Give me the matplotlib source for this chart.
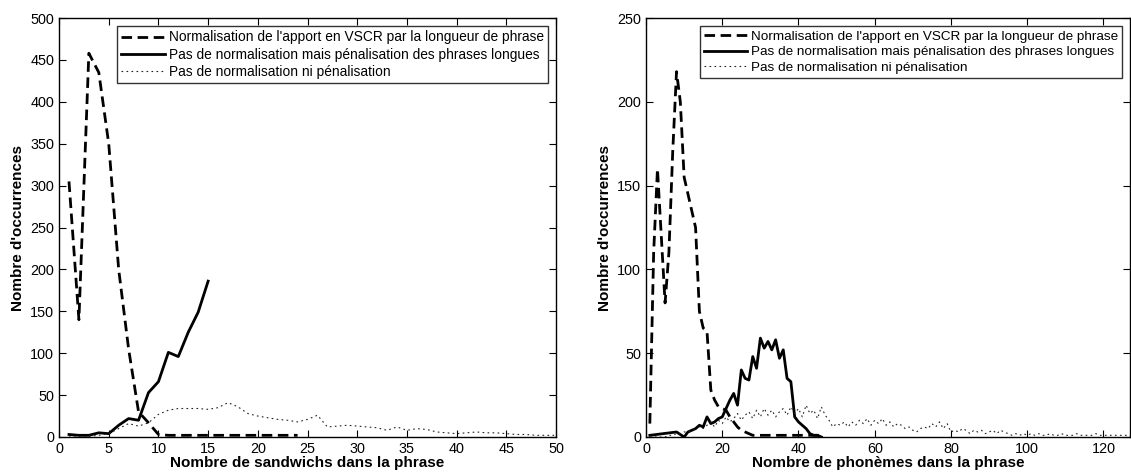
import numpy as np
import matplotlib
matplotlib.use("Agg")
import matplotlib.pyplot as plt

plt.rcParams['font.family'] = ['Liberation Sans', 'DejaVu Sans']

# Données : sandwichs
sw_x_norm = list(range(1, 25))
sw_norm = [305, 140, 458, 435, 350, 200, 105, 30, 17, 3,
           2, 2, 2, 2, 2, 2, 2, 2, 2, 2, 2, 2, 2, 2]
sw_x_pen = list(range(1, 16))
sw_pen = [3, 2, 2, 5, 4, 14, 22, 20, 53, 66, 101, 96, 125, 149, 186]
sw_x_brut = list(range(1, 51))
sw_brut = [0, 0, 1, 2, 4, 10, 16, 13, 17, 27,
           32, 34, 34, 34, 33, 35, 41, 36, 28, 25,
           23, 21, 20, 18, 21, 26, 12, 13, 14, 13,
           12, 11, 8, 12, 8, 10, 9, 6, 5, 4,
           5, 6, 5, 5, 4, 3, 3, 2, 2, 2]

# Données : phonèmes
ph_x_norm = list(range(1, 47))
ph_norm = [8, 110, 160, 120, 80, 110, 170, 218, 200, 155,
           145, 135, 125, 75, 65, 63, 28, 22, 18, 17,
           16, 12, 9, 6, 4, 3, 2, 1, 1, 1,
           1, 1, 1, 1, 1, 1, 1, 1, 1, 1,
           1, 1, 1, 1, 1, 1]
ph_x_pen = [1, 8, 10, 11, 12, 13, 14, 15, 16, 17, 18, 19, 20, 21, 22, 23, 24,
            25, 26, 27, 28, 29, 30, 31, 32, 33, 34, 35, 36, 37, 38, 39, 40,
            41, 42, 43, 44, 45, 46]
ph_pen = [1, 3, 0, 3, 4, 5, 7, 6, 12, 8, 9, 11, 12, 17, 22, 26, 19,
          40, 35, 34, 48, 41, 59, 53, 57, 52, 58, 47, 52, 35, 33, 12, 9,
          7, 5, 2, 1, 1, 0]
ph_x_brut = list(range(1, 128))
ph_brut = [0, 0, 0, 0, 0, 1, 1, 2, 2, 3,
           3, 4, 5, 6, 5, 7, 9, 6, 10, 8,
           12, 9, 11, 14, 10, 13, 15, 11, 16, 12,
           17, 13, 16, 12, 15, 17, 13, 18, 14, 17,
           12, 19, 14, 16, 11, 18, 13, 10, 6, 8,
           7, 9, 6, 9, 7, 10, 8, 11, 7, 10,
           8, 11, 7, 9, 6, 8, 7, 5, 6, 4,
           3, 5, 6, 5, 8, 6, 9, 5, 8, 3,
           4, 3, 5, 4, 2, 4, 3, 4, 2, 3,
           4, 2, 4, 3, 2, 1, 2, 1, 2, 1,
           2, 1, 2, 1, 1, 2, 1, 1, 2, 1,
           1, 1, 2, 1, 1, 1, 1, 2, 1, 1,
           1, 1, 1, 1, 1, 1, 1]

labels = ["Normalisation de l'apport en VSCR par la longueur de phrase",
          "Pas de normalisation mais pénalisation des phrases longues",
          "Pas de normalisation ni pénalisation"]

fig = plt.figure(figsize=(11.31, 4.75), dpi=100)
ax1 = fig.add_axes([0.0522, 0.08, 0.4394, 0.882])
ax2 = fig.add_axes([0.5712, 0.08, 0.428, 0.882])


def trace(ax, xn, yn, xp, yp, xb, yb, fs):
    ax.plot(xn, yn, color='black', lw=2.0, linestyle=(0, (3.8, 2.0)), label=labels[0])
    ax.plot(xp, yp, color='black', lw=2.0, linestyle='-', label=labels[1])
    ax.plot(xb, yb, color='#222222', lw=0.8, linestyle=(0, (1.5, 3)), label=labels[2])
    ax.tick_params(direction='in', top=True, right=True, length=5, labelsize=10.4)
    for s in ax.spines.values():
        s.set_linewidth(1.0)
    leg = ax.legend(loc='upper right', fontsize=fs, frameon=True, fancybox=False,
                    edgecolor='black', handlelength=3.2, borderaxespad=0.6,
                    labelspacing=0.25, handletextpad=0.25, borderpad=0.3)
    leg.get_frame().set_linewidth(1.0)
    ax.set_ylabel("Nombre d'occurrences", fontsize=11, fontweight='bold', labelpad=4)


trace(ax1, sw_x_norm, sw_norm, sw_x_pen, sw_pen, sw_x_brut, sw_brut, 9.9)
ax1.set_xlim(0, 50)
ax1.set_ylim(0, 500)
ax1.set_xticks(np.arange(0, 51, 5))
ax1.set_yticks(np.arange(0, 501, 50))
ax1.set_xlabel("Nombre de sandwichs dans la phrase", fontsize=11, fontweight='bold', labelpad=0)

trace(ax2, ph_x_norm, ph_norm, ph_x_pen, ph_pen, ph_x_brut, ph_brut, 9.7)
ax2.set_xlim(0, 127)
ax2.set_ylim(0, 250)
ax2.set_xticks(np.arange(0, 121, 20))
ax2.set_yticks(np.arange(0, 251, 50))
ax2.set_xlabel("Nombre de phonèmes dans la phrase", fontsize=11, fontweight='bold', labelpad=0)

fig.savefig("out.png", dpi=100)
